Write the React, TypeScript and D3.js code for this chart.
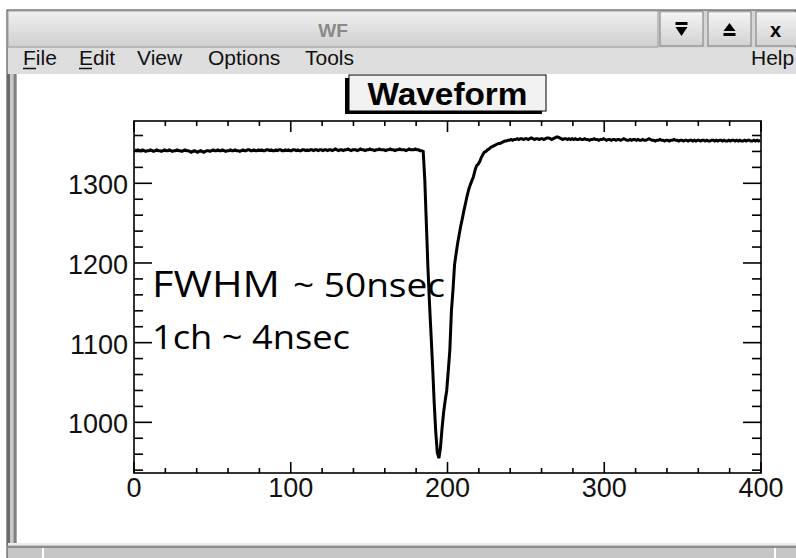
import React from "react";
import * as d3 from "d3";

const W = 796;
const H = 558;

// ADC counts per channel, channels 0..399
const waveform: number[] = [
  1342, 1341, 1342, 1341, 1341, 1342, 1341, 1340, 1341, 1341, 1342, 1341, 1340, 1341, 1342, 1341, 1341, 1340, 1341, 1342,
  1341, 1341, 1342, 1341, 1340, 1341, 1341, 1342, 1341, 1341, 1340, 1341, 1342, 1341, 1341, 1340, 1339, 1340, 1341, 1340,
  1339, 1340, 1341, 1340, 1339, 1340, 1341, 1341, 1340, 1341, 1342, 1341, 1341, 1342, 1341, 1341, 1342, 1341, 1340, 1341,
  1341, 1342, 1341, 1341, 1342, 1341, 1341, 1340, 1341, 1342, 1341, 1341, 1342, 1342, 1341, 1341, 1342, 1341, 1341, 1342,
  1341, 1342, 1341, 1341, 1342, 1342, 1341, 1342, 1341, 1341, 1342, 1341, 1342, 1342, 1341, 1341, 1342, 1341, 1342, 1341,
  1341, 1342, 1342, 1341, 1342, 1341, 1341, 1342, 1342, 1341, 1342, 1341, 1342, 1342, 1341, 1342, 1342, 1341, 1342, 1342,
  1341, 1342, 1342, 1341, 1342, 1342, 1341, 1342, 1343, 1342, 1341, 1342, 1342, 1341, 1342, 1342, 1343, 1342, 1341, 1342,
  1342, 1342, 1341, 1342, 1343, 1342, 1342, 1341, 1342, 1342, 1343, 1342, 1342, 1341, 1342, 1342, 1343, 1342, 1342, 1342,
  1341, 1342, 1342, 1343, 1342, 1342, 1341, 1342, 1342, 1343, 1342, 1342, 1342, 1341, 1342, 1343, 1342, 1342, 1342, 1343,
  1342, 1342, 1341, 1341, 1340, 1305, 1250, 1195, 1150, 1110, 1070, 1025, 988, 962, 955, 968, 992, 1012, 1027, 1040,
  1065, 1091, 1140, 1166, 1198, 1212, 1225, 1236, 1247, 1256, 1266, 1275, 1284, 1292, 1298, 1303, 1308, 1316, 1322, 1324,
  1327, 1332, 1336, 1339, 1340, 1342, 1343, 1345, 1346, 1347, 1348, 1349, 1350, 1350, 1351, 1352, 1353, 1353, 1354, 1354,
  1355, 1354, 1355, 1355, 1356, 1355, 1356, 1356, 1355, 1356, 1356, 1355, 1356, 1357, 1356, 1355, 1356, 1356, 1355, 1356,
  1356, 1355, 1356, 1357, 1357, 1356, 1355, 1356, 1357, 1358, 1358, 1357, 1356, 1355, 1356, 1356, 1355, 1356, 1355, 1356,
  1355, 1356, 1355, 1355, 1356, 1355, 1355, 1356, 1355, 1355, 1354, 1355, 1355, 1356, 1355, 1355, 1354, 1355, 1355, 1356,
  1355, 1354, 1355, 1355, 1354, 1355, 1355, 1354, 1355, 1355, 1354, 1355, 1356, 1355, 1354, 1354, 1355, 1354, 1355, 1355,
  1354, 1355, 1354, 1354, 1355, 1354, 1354, 1355, 1356, 1355, 1354, 1354, 1353, 1354, 1354, 1355, 1354, 1354, 1353, 1354,
  1354, 1353, 1354, 1354, 1355, 1354, 1354, 1353, 1354, 1354, 1353, 1354, 1354, 1353, 1354, 1354, 1353, 1354, 1353, 1354,
  1354, 1353, 1354, 1354, 1353, 1354, 1353, 1353, 1354, 1354, 1353, 1354, 1353, 1354, 1354, 1353, 1354, 1353, 1353, 1354,
  1353, 1354, 1354, 1353, 1354, 1353, 1354, 1353, 1353, 1354, 1353, 1354, 1354, 1353, 1353, 1354, 1353, 1354, 1353, 1354,
];

const xDomain: [number, number] = [0, 400];
const yDomain: [number, number] = [936.4, 1378.2];
const xMajorTicks = [0, 100, 200, 300, 400];
const yMajorTicks = [1000, 1100, 1200, 1300];
const minorStep = 20;

const windowTitle = "WF";
const plotTitle = "Waveform";
const menuItems = ["File", "Edit", "View", "Options", "Tools"];
const helpItem = "Help";
const notes = ["FWHM", "~ 50nsec", "1ch ~ 4nsec"];

const frame = { left: 134, right: 761, top: 121, bottom: 473 };

export default function App() {
  const x = d3.scaleLinear().domain(xDomain).range([frame.left, frame.right]);
  const y = d3.scaleLinear().domain(yDomain).range([frame.bottom, frame.top]);

  const line = d3
    .line<number>()
    .x((_, i) => x(i + 0.5))
    .y((d) => y(d));

  const xMinor = d3.range(xDomain[0], xDomain[1] + 1, minorStep).filter((v) => !xMajorTicks.includes(v));
  const yMinor = d3
    .range(Math.ceil(yDomain[0] / minorStep) * minorStep, yDomain[1], minorStep)
    .filter((v) => !yMajorTicks.includes(v));

  const yMajorLen = 18;
  const yMinorLen = 9;
  const xMajorLen = 11;
  const xMinorLen = 5;

  const menuX = [23, 79, 137, 208, 305];
  const font = "'Liberation Sans', Arial, Helvetica, sans-serif";
  const noteFont = "'Open Sans', 'Liberation Sans', sans-serif";

  const buttons = [
    { x0: 660, x1: 703, kind: "min" },
    { x0: 708, x1: 751, kind: "max" },
    { x0: 756, x1: 799, kind: "close" },
  ];

  return (
    <svg
      width={W}
      height={H}
      viewBox={`0 0 ${W} ${H}`}
      style={{ position: "absolute", left: 0, top: 0, display: "block" }}
    >
      <defs>
        <linearGradient id="titlebar" x1="0" y1="0" x2="0" y2="1">
          <stop offset="0" stopColor="#f0f0f0" />
          <stop offset="1" stopColor="#cfcfcf" />
        </linearGradient>
        <linearGradient id="btn" x1="0" y1="0" x2="0" y2="1">
          <stop offset="0" stopColor="#f4f4f4" />
          <stop offset="1" stopColor="#d2d2d2" />
        </linearGradient>
      </defs>

      {/* page and window frame */}
      <rect x={0} y={0} width={W} height={H} fill="#ffffff" />
      <rect x={7} y={10} width={W - 7} height={H - 10} fill="#d6d6d6" stroke="#3a3a3a" strokeWidth={1} />

      {/* title bar */}
      <rect x={8} y={11} width={650} height={36} fill="url(#titlebar)" stroke="#9d9d9d" />
      <text
        x={(8 + 658) / 2}
        y={37}
        textAnchor="middle"
        fontFamily={font}
        fontWeight="bold"
        fontSize={19}
        fill="#8a8a8a"
      >
        {windowTitle}
      </text>
      {buttons.map((b) => {
        const cx = (b.x0 + b.x1) / 2;
        return (
          <g key={b.kind}>
            <rect x={b.x0} y={12} width={b.x1 - b.x0} height={34} fill="url(#btn)" stroke="#7a7a7a" />
            <line x1={b.x0 + 1} y1={13} x2={b.x1 - 1} y2={13} stroke="#ffffff" />
            {b.kind === "min" && (
              <g fill="#000">
                <rect x={cx - 6} y={22} width={12} height={3} />
                <path d={`M${cx - 6},27 L${cx + 6},27 L${cx},36 Z`} />
              </g>
            )}
            {b.kind === "max" && (
              <g fill="#000">
                <path d={`M${cx - 6},31 L${cx + 6},31 L${cx},23 Z`} />
                <rect x={cx - 6} y={33} width={12} height={3} />
              </g>
            )}
            {b.kind === "close" && (
              <text x={cx - 2} y={37} textAnchor="middle" fontFamily={font} fontWeight="bold" fontSize={20} fill="#000">
                x
              </text>
            )}
          </g>
        );
      })}

      {/* menu bar */}
      <rect x={8} y={48} width={W - 8} height={26} fill="#dedede" />
      {menuItems.map((m, i) => (
        <text key={m} x={menuX[i]} y={65} fontFamily={font} fontSize={21} fill="#111">
          {m}
        </text>
      ))}
      <line x1={23} y1={68.5} x2={36} y2={68.5} stroke="#111" strokeWidth={1.5} />
      <line x1={79} y1={68.5} x2={92} y2={68.5} stroke="#111" strokeWidth={1.5} />
      <text x={751} y={65} fontFamily={font} fontSize={21} fill="#111">
        {helpItem}
      </text>

      {/* canvas area */}
      <rect x={17} y={74} width={W - 17} height={469} fill="#ffffff" />
      <line x1={8.5} y1={74} x2={8.5} y2={545} stroke="#6a6a6a" strokeWidth={3} />
      <line x1={11.5} y1={74} x2={11.5} y2={545} stroke="#c8c8c8" strokeWidth={3} />
      <line x1={15} y1={74} x2={15} y2={545} stroke="#808080" strokeWidth={3} />

      {/* status bar */}
      <rect x={8} y={543} width={W - 8} height={15} fill="#c6c6c6" />
      <line x1={8} y1={544} x2={W} y2={544} stroke="#ececec" strokeWidth={2} />
      <line x1={8} y1={547} x2={W} y2={547} stroke="#8c8c8c" strokeWidth={2} />
      <line x1={43} y1={548} x2={43} y2={558} stroke="#ffffff" strokeWidth={2} />
      <line x1={775} y1={548} x2={775} y2={558} stroke="#ffffff" strokeWidth={2} />

      {/* plot title box */}
      <rect x={345} y={78} width={197} height={36} fill="#000" />
      <rect x={349} y={75} width={197} height={36} fill="#f2f2f2" stroke="#000" strokeWidth={1} />
      <text
        x={447.5}
        y={105}
        textAnchor="middle"
        fontFamily={font}
        fontWeight="bold"
        fontSize={31}
        textLength={160}
        lengthAdjust="spacingAndGlyphs"
        fill="#000"
      >
        {plotTitle}
      </text>

      {/* waveform */}
      <path d={line(waveform) ?? ""} fill="none" stroke="#000" strokeWidth={3} strokeLinejoin="miter" />

      {/* frame */}
      <rect
        x={frame.left}
        y={frame.top}
        width={frame.right - frame.left}
        height={frame.bottom - frame.top}
        fill="none"
        stroke="#000"
        strokeWidth={1.6}
      />

      {/* x ticks: bottom and top */}
      {xMajorTicks.map((v) => (
        <g key={`xM${v}`} stroke="#000" strokeWidth={1.6}>
          <line x1={x(v)} x2={x(v)} y1={frame.bottom} y2={frame.bottom - xMajorLen} />
          <line x1={x(v)} x2={x(v)} y1={frame.top} y2={frame.top + xMajorLen} />
        </g>
      ))}
      {xMinor.map((v) => (
        <g key={`xm${v}`} stroke="#000" strokeWidth={1.6}>
          <line x1={x(v)} x2={x(v)} y1={frame.bottom} y2={frame.bottom - xMinorLen} />
          <line x1={x(v)} x2={x(v)} y1={frame.top} y2={frame.top + xMinorLen} />
        </g>
      ))}

      {/* y ticks: left and right */}
      {yMajorTicks.map((v) => (
        <g key={`yM${v}`} stroke="#000" strokeWidth={1.6}>
          <line x1={frame.left} x2={frame.left + yMajorLen} y1={y(v)} y2={y(v)} />
          <line x1={frame.right} x2={frame.right - yMajorLen} y1={y(v)} y2={y(v)} />
        </g>
      ))}
      {yMinor.map((v) => (
        <g key={`ym${v}`} stroke="#000" strokeWidth={1.6}>
          <line x1={frame.left} x2={frame.left + yMinorLen} y1={y(v)} y2={y(v)} />
          <line x1={frame.right} x2={frame.right - yMinorLen} y1={y(v)} y2={y(v)} />
        </g>
      ))}

      {/* tick labels */}
      {xMajorTicks.map((v) => (
        <text key={`xl${v}`} x={x(v)} y={497} textAnchor="middle" fontFamily={font} fontSize={27} fill="#111">
          {v}
        </text>
      ))}
      {yMajorTicks.map((v) => (
        <text key={`yl${v}`} x={128} y={y(v) + 11} textAnchor="end" fontFamily={font} fontSize={27} fill="#111">
          {v}
        </text>
      ))}

      {/* annotations */}
      <text x={152} y={297} fontFamily={noteFont} fontSize={37} textLength={128} lengthAdjust="spacingAndGlyphs" fill="#000">
        {notes[0]}
      </text>
      <text x={293} y={297} fontFamily={noteFont} fontSize={32} textLength={152} lengthAdjust="spacingAndGlyphs" fill="#000">
        {notes[1]}
      </text>
      <text x={152} y={349} fontFamily={noteFont} fontSize={32} textLength={198} lengthAdjust="spacingAndGlyphs" fill="#000">
        {notes[2]}
      </text>
    </svg>
  );
}
